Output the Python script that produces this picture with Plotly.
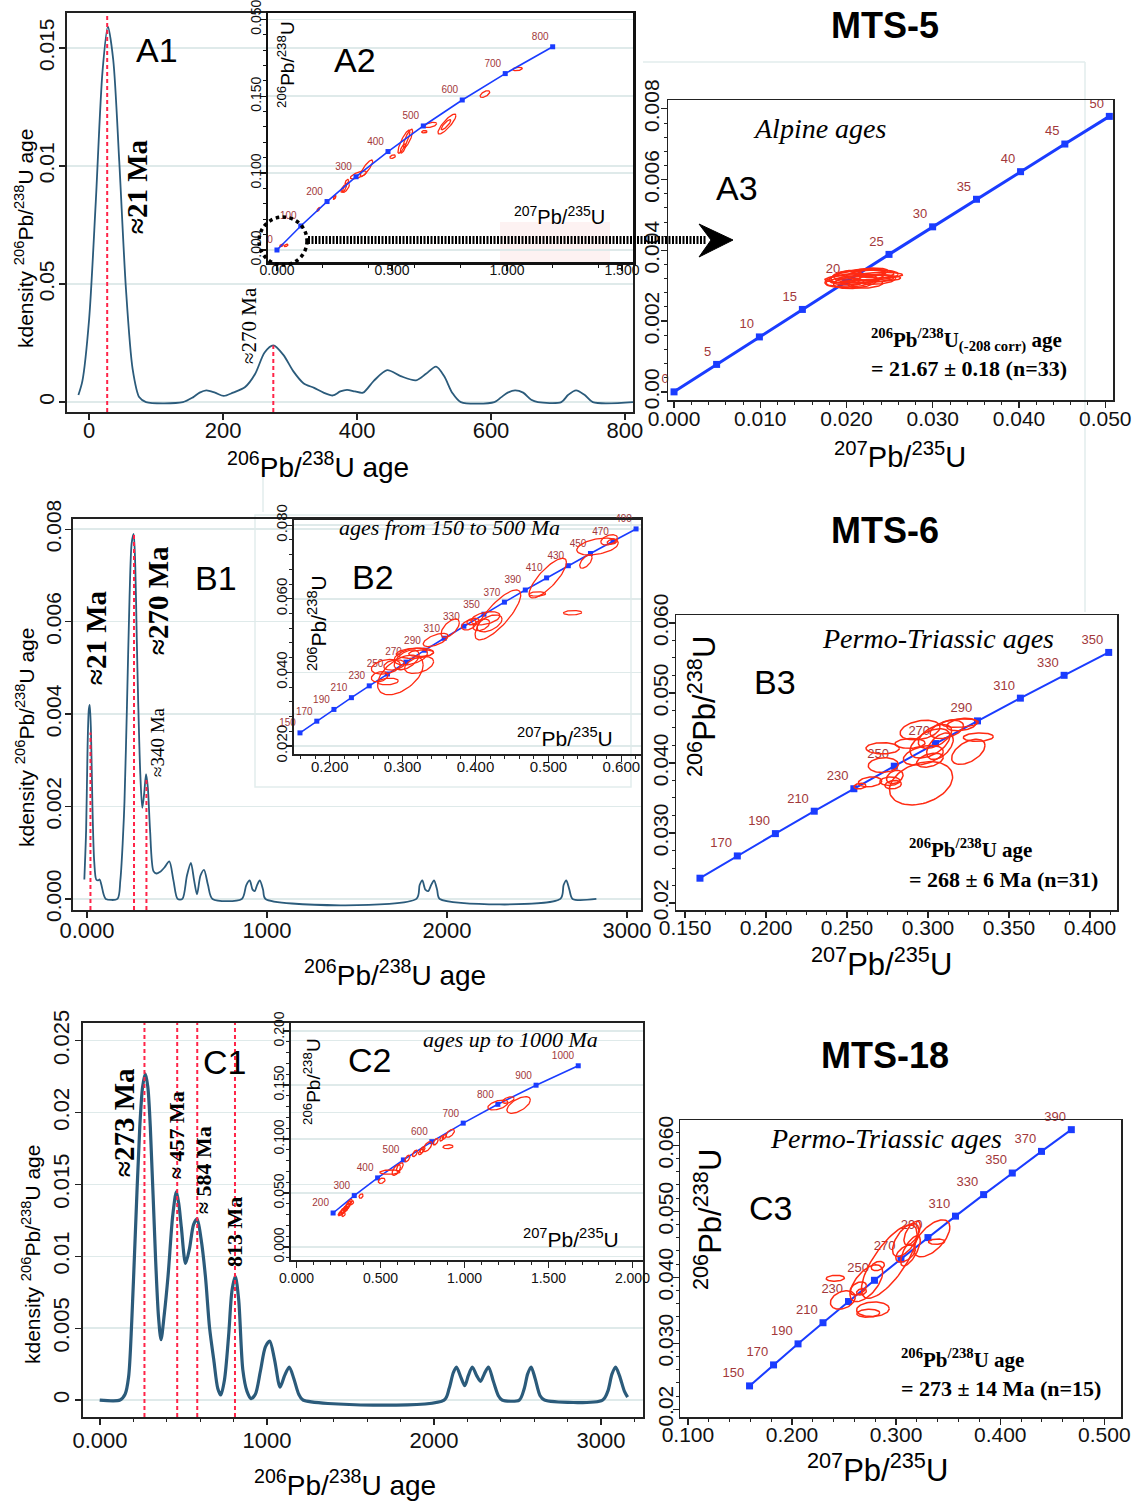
import numpy as np
import plotly.graph_objects as go

W, H = 1134, 1502
SANS = "Liberation Sans, Arial, Helvetica, sans-serif"
SERIF = "Liberation Serif, Times New Roman, serif"
KDE = "#2b5b7b"
CONC = "#1a3cff"
ELL = "#ff2a12"
PEAK = "#ff2448"
LAB = "#a2383a"
GRID = "#dfeaea"

# ============================ DATA ============================
# ---- A1: kernel density, MTS-5 ----
a1_age = [-16, -10, 0, 10, 20, 28, 36, 45, 55, 65, 75, 85, 140, 155, 165, 175, 188, 201, 215, 233,
          248, 262, 275, 290, 305, 320, 336, 350, 364, 375, 385, 397, 409, 425, 445, 465, 488, 503, 518, 530,
          542, 555, 605, 615, 625, 636, 648, 660, 670, 705, 715, 727, 740, 752, 812]
a1_den = [0.0003, 0.0009, 0.0035, 0.0085, 0.0140, 0.0159, 0.0145, 0.0102, 0.0048, 0.0014,
          0.0002, 0.0, 0.0, 0.0002, 0.0004, 0.0005, 0.0004, 0.00026, 0.0004, 0.00064,
          0.0012, 0.0021, 0.0024, 0.0020, 0.0013, 0.0008, 0.0006, 0.0004, 0.00028, 0.00045,
          0.00052, 0.00045, 0.0004, 0.0009, 0.00135, 0.0011, 0.00092, 0.0012, 0.0015, 0.0011,
          0.0004, 0.0, 0.0, 0.0002, 0.0004, 0.0005, 0.0004, 0.0001, 0.0, 0.0,
          0.0003, 0.0005, 0.0003, 0.0, 0.0]
a1_peak_x = [27, 275]
a1_peak_top = [0.01648, 0.0024]

# ---- A2: concordia 0-800 Ma ----
a2_ages = ["0", "100", "200", "300", "400", "500", "600", "700", "800"]
a2_cx = [0.0, 0.10350, 0.21771, 0.34374, 0.48281, 0.63628, 0.80563, 0.99251, 1.19873]
a2_cy = [0.0, 0.015633, 0.031511, 0.047637, 0.064016, 0.080650, 0.097544, 0.114702, 0.132133]
a2_ex = [0.02, 0.04, 0.18, 0.251, 0.29, 0.30, 0.304, 0.354, 0.389, 0.503, 0.552, 0.570, 0.548, 0.641, 0.668, 0.739, 0.735, 0.904, 1.046]
a2_ey = [0.003, 0.003, 0.0264, 0.0342, 0.040, 0.0405, 0.0444, 0.0488, 0.0531, 0.0607, 0.0704, 0.0726, 0.066, 0.0769, 0.0813, 0.0819, 0.0815, 0.1014, 0.1177]
a2_ea = [0.008, 0.008, 0.006, 0.006, 0.012, 0.015, 0.008, 0.035, 0.027, 0.012, 0.026, 0.020, 0.012, 0.012, 0.027, 0.039, 0.021, 0.021, 0.021]
a2_eb = [0.0008, 0.0008, 0.0012, 0.0012, 0.0025, 0.003, 0.0015, 0.0026, 0.0054, 0.0012, 0.0075, 0.006, 0.003, 0.0008, 0.0017, 0.0065, 0.0033, 0.0022, 0.0011]
a2_er = [0.5, 0.5, 0.7, 0.7, 0.7, 0.7, 0.6, 0.7, 0.85, 0.4, 0.85, 0.8, 0.7, 0.2, 0.5, 0.85, 0.85, 0.6, 0.3]

# ---- A3: concordia 0-50 Ma ----
a3_ages = ["0", "5", "10", "15", "20", "25", "30", "35", "40", "45", "50"]
a3_cx = [0.0, 0.004936, 0.009897, 0.014882, 0.019892, 0.024927, 0.029986, 0.035071, 0.040180, 0.045315, 0.050475]
a3_cy = [0.0, 0.000776, 0.001553, 0.002330, 0.003107, 0.003886, 0.004665, 0.005444, 0.006224, 0.007005, 0.007787]
a3_ex = [0.0215, 0.0220, 0.0205, 0.0225, 0.0230, 0.0210, 0.0218, 0.0198, 0.0240, 0.0212, 0.0228, 0.0222, 0.0200, 0.0235]
a3_ey = [0.00320, 0.00330, 0.00315, 0.00320, 0.00330, 0.00310, 0.00335, 0.00310, 0.00330, 0.00325, 0.00340, 0.00305, 0.00325, 0.00318]
a3_ea = [0.0040, 0.0035, 0.0030, 0.0038, 0.0030, 0.0025, 0.0028, 0.0022, 0.0025, 0.0032, 0.0020, 0.0020, 0.0018, 0.0022]
a3_eb = [0.00012, 0.00015, 0.00020, 0.00010, 0.00015, 0.00018, 0.00010, 0.00012, 0.00008, 0.00022, 0.00010, 0.00012, 0.00018, 0.00014]
a3_er = [0.2, 0.3, 0.3, 0.2, 0.2, 0.3, 0.2, 0.2, 0.1, 0.4, 0.2, 0.2, 0.3, 0.2]

# ---- B1: kernel density, MTS-6 ----
b1_age = [-15, -5, 3, 10, 15, 22, 30, 40, 51, 62, 70, 80, 92, 104, 169, 185, 198, 208, 222, 236,
          248, 259, 268, 276, 284, 296, 307, 318, 328, 338, 350, 369, 385, 404, 430, 457, 480, 503, 530, 555,
          577, 595, 611, 630, 650, 672, 697, 860, 885, 904, 920, 932, 945, 960, 978, 992, 1830, 1848, 1863, 1880,
          1896, 1912, 1928, 1945, 1960, 2630, 2648, 2663, 2680, 2698, 2830]
b1_den = [0.00042, 0.0015, 0.0033, 0.0041, 0.0042, 0.0036, 0.0020, 0.0008, 0.00042, 0.00040,
          0.00042, 0.0003, 0.0001, 0.0, 0.0, 0.0004, 0.0012, 0.0021, 0.0042, 0.0065,
          0.0077, 0.0079, 0.0072, 0.0057, 0.0043, 0.0027, 0.00197, 0.0023, 0.0027, 0.0024,
          0.0015, 0.0006, 0.00055, 0.00058, 0.00068, 0.00081, 0.0004, 0.0, 0.0, 0.0005,
          0.00078, 0.0004, 0.0001, 0.0005, 0.00063, 0.0003, 0.0, 0.0, 0.0003, 0.0004,
          0.0002, 0.00017, 0.0003, 0.0004, 0.0002, 0.0, 0.0, 0.0003, 0.0004, 0.0002,
          0.00017, 0.0003, 0.0004, 0.0002, 0.0, 0.0, 0.0003, 0.0004, 0.0002, 0.0, 0.0]
b1_peak_x = [19, 261, 330]
b1_peak_top = [0.0036, 0.0079, 0.0026]

# ---- B2: concordia 150-490 Ma ----
b2_ages = ["150", "170", "190", "210", "230", "250", "270", "290", "310", "330", "350", "370", "390", "410", "430", "450", "470", "490"]
b2_cx = [0.15920, 0.18226, 0.20578, 0.22976, 0.25423, 0.27918, 0.30462, 0.33057, 0.35704, 0.38404, 0.41157, 0.43965, 0.46828, 0.49749, 0.52728, 0.55766, 0.58865, 0.62023]
b2_cy = [0.023542, 0.026722, 0.029912, 0.033113, 0.036323, 0.039543, 0.042773, 0.046014, 0.049264, 0.052524, 0.055795, 0.059075, 0.062366, 0.065667, 0.068979, 0.072300, 0.075631, 0.078975]
b2_ex = [0.2969, 0.2770, 0.2685, 0.2799, 0.3112, 0.3226, 0.3168, 0.3055, 0.3255, 0.2884, 0.3653, 0.3453, 0.4307, 0.4193, 0.4080, 0.3909, 0.4137, 0.3966, 0.4991, 0.4848, 0.5332, 0.5514, 0.5674, 0.5833, 0.5875]
b2_ey = [0.0393, 0.0415, 0.0388, 0.0375, 0.0443, 0.0420, 0.0452, 0.0434, 0.0452, 0.0420, 0.0520, 0.0488, 0.0556, 0.0533, 0.0529, 0.0529, 0.0547, 0.0538, 0.0656, 0.0613, 0.0562, 0.0701, 0.0742, 0.0760, 0.0755]
b2_ea = [0.0313, 0.0199, 0.0114, 0.0142, 0.0228, 0.0199, 0.0256, 0.0171, 0.0171, 0.0142, 0.0125, 0.0171, 0.0313, 0.0171, 0.0114, 0.0102, 0.0199, 0.0085, 0.0256, 0.0114, 0.0125, 0.0085, 0.0285, 0.0114, 0.0068]
b2_eb = [0.0054, 0.0020, 0.0014, 0.0009, 0.0023, 0.0023, 0.0014, 0.0027, 0.0009, 0.0014, 0.0025, 0.0018, 0.0068, 0.0023, 0.0016, 0.0014, 0.0018, 0.0009, 0.0054, 0.0006, 0.0006, 0.0018, 0.0023, 0.0014, 0.0007]
b2_er = [0.5, 0.3, 0.3, 0.2, 0.4, 0.4, 0.2, 0.5, 0.2, 0.3, 0.6, 0.6, 0.8, 0.5, 0.4, 0.4, 0.4, 0.3, 0.8, 0.1, 0.1, 0.6, 0.4, 0.4, 0.3]

# ---- B3: concordia 150-350 Ma ----
b3_ages = ["", "170", "190", "210", "230", "250", "270", "290", "310", "330", "350"]
b3_cx = [0.15920, 0.18226, 0.20578, 0.22976, 0.25423, 0.27918, 0.30462, 0.33057, 0.35704, 0.38404, 0.41157]
b3_cy = [0.023542, 0.026722, 0.029912, 0.033113, 0.036323, 0.039543, 0.042773, 0.046014, 0.049264, 0.052524, 0.055795]
b3_ex = [0.2957, 0.2720, 0.2724, 0.2642, 0.2765, 0.2795, 0.2580, 0.2889, 0.3012, 0.3043, 0.3074, 0.3249, 0.3311, 0.3198, 0.3208, 0.3116, 0.2971, 0.2951, 0.3012, 0.2785]
b3_ey = [0.0371, 0.0421, 0.0397, 0.0373, 0.0374, 0.0380, 0.0367, 0.0428, 0.0428, 0.0438, 0.0424, 0.0416, 0.0437, 0.0457, 0.0455, 0.0448, 0.0411, 0.0447, 0.0404, 0.0369]
b3_ea = [0.0195, 0.0103, 0.0093, 0.0072, 0.0062, 0.0051, 0.0037, 0.0093, 0.0123, 0.0103, 0.0082, 0.0103, 0.0093, 0.0113, 0.0093, 0.0103, 0.0123, 0.0123, 0.0082, 0.0051]
b3_eb = [0.0031, 0.0008, 0.00105, 0.0007, 0.0006, 0.00095, 0.0004, 0.0007, 0.0021, 0.0017, 0.0019, 0.0018, 0.0006, 0.0006, 0.0009, 0.0013, 0.0014, 0.0014, 0.0010, 0.0006]
b3_er = [0.3, 0.0, 0.1, 0.2, 0.1, 0.3, 0.2, 0.1, 0.5, 0.5, 0.5, 0.5, 0.1, 0.2, 0.3, 0.4, 0.4, 0.3, 0.4, 0.2]

# ---- C1: kernel density, MTS-18 ----
c1_age = [-2, 120, 150, 171, 190, 209, 238, 255, 271, 286, 301, 333, 350, 365, 385, 407, 435, 457, 472, 487,
          512, 535, 560, 581, 605, 631, 656, 681, 705, 723, 745, 770, 790, 810, 830, 855, 880, 904, 930, 960,
          990, 1016, 1045, 1078, 1105, 1133, 1160, 1190, 1215, 2060, 2090, 2115, 2134, 2160, 2184, 2205, 2229, 2255, 2278, 2300,
          2326, 2355, 2385, 2407, 2510, 2540, 2560, 2581, 2605, 2635, 2661, 3009, 3040, 3065, 3087, 3110, 3140, 3159]
c1_den = [0.0, 0.0, 0.0004, 0.0016, 0.0055, 0.0109, 0.0190, 0.0218, 0.0227, 0.0218,
          0.0190, 0.0097, 0.0058, 0.0042, 0.0060, 0.0086, 0.0128, 0.0145, 0.0136, 0.0120,
          0.0095, 0.0105, 0.0122, 0.0126, 0.0112, 0.0086, 0.0050, 0.0028, 0.0008, 0.00035,
          0.0014, 0.0045, 0.0076, 0.0086, 0.0070, 0.0021, 0.0006, 0.0001, 0.0004, 0.0020,
          0.0037, 0.0041, 0.0028, 0.0009, 0.0017, 0.0023, 0.0015, 0.0004, 0.0, 0.0,
          0.0008, 0.0019, 0.0023, 0.0016, 0.0010, 0.0017, 0.0023, 0.0017, 0.0013, 0.0018,
          0.0023, 0.0013, 0.0003, 0.0, 0.0, 0.0008, 0.0018, 0.0023, 0.0015, 0.0003,
          0.0, 0.0, 0.0006, 0.0018, 0.0023, 0.0017, 0.0006, 0.0002]
c1_peak_x = [266, 462, 582, 808]

# ---- C2: concordia 200-1000 Ma ----
c2_ages = ["200", "300", "400", "500", "600", "700", "800", "900", "1000"]
c2_cx = [0.21771, 0.34374, 0.48281, 0.63628, 0.80563, 0.99251, 1.19873, 1.42630, 1.67741]
c2_cy = [0.031511, 0.047637, 0.064016, 0.080650, 0.097544, 0.114702, 0.132133, 0.149830, 0.167800]
c2_ex = [0.27, 0.285, 0.30, 0.31, 0.29, 0.32, 0.26, 0.275, 0.295, 0.305, 0.28, 0.33,
         0.384, 0.507, 0.556, 0.594, 0.615, 0.66, 0.705, 0.74, 0.779, 0.75, 0.8286, 0.865, 0.88,
         0.902, 0.915, 1.199, 1.261, 1.3225]
c2_ey = [0.032, 0.0343, 0.037, 0.040, 0.036, 0.042, 0.031, 0.0335, 0.035, 0.038, 0.030, 0.041,
         0.0472, 0.0614, 0.0694, 0.0713, 0.074, 0.082, 0.0867, 0.088, 0.0929, 0.090, 0.0975, 0.1006, 0.102,
         0.0929, 0.1053, 0.1315, 0.1361, 0.1315]
c2_ea = [0.015, 0.020, 0.018, 0.015, 0.012, 0.012, 0.012, 0.014, 0.012, 0.015, 0.010, 0.010,
         0.012, 0.020, 0.060, 0.025, 0.020, 0.015, 0.015, 0.014, 0.026, 0.015, 0.015, 0.012, 0.012,
         0.030, 0.025, 0.060, 0.035, 0.070]
c2_eb = [0.0025, 0.003, 0.003, 0.0025, 0.002, 0.002, 0.002, 0.0025, 0.002, 0.0025, 0.0018, 0.0018,
         0.002, 0.0025, 0.002, 0.005, 0.004, 0.003, 0.003, 0.0025, 0.0046, 0.003, 0.003, 0.0025, 0.0022,
         0.0018, 0.0037, 0.0046, 0.003, 0.0077]
c2_er = [0.6, 0.7, 0.7, 0.6, 0.5, 0.5, 0.6, 0.6, 0.6, 0.6, 0.5, 0.5,
         0.3, 0.3, 0.1, 0.6, 0.6, 0.6, 0.6, 0.6, 0.6, 0.6, 0.6, 0.6, 0.6,
         0.2, 0.6, 0.5, 0.5, 0.6]

# ---- C3: concordia 150-390 Ma ----
c3_ages = ["150", "170", "190", "210", "230", "250", "270", "290", "310", "330", "350", "370", "390"]
c3_cx = [0.15920, 0.18226, 0.20578, 0.22976, 0.25423, 0.27918, 0.30462, 0.33057, 0.35704, 0.38404, 0.41157, 0.43965, 0.46828]
c3_cy = [0.023542, 0.026722, 0.029912, 0.033113, 0.036323, 0.039543, 0.042773, 0.046014, 0.049264, 0.052524, 0.055795, 0.059075, 0.062366]
c3_ex = [0.2934, 0.3343, 0.3091, 0.3154, 0.3091, 0.3390, 0.2714, 0.2824, 0.2636, 0.2488, 0.2777, 0.2733, 0.2416, 0.2667, 0.3138]
c3_ey = [0.04237, 0.0459, 0.04565, 0.0467, 0.0436, 0.0454, 0.0391, 0.0417, 0.0383, 0.03656, 0.03515, 0.03455, 0.03985, 0.0378, 0.0440]
c3_ea = [0.0267, 0.0173, 0.0126, 0.0079, 0.0094, 0.0079, 0.0157, 0.0063, 0.0079, 0.0119, 0.0157, 0.0110, 0.0088, 0.0047, 0.0094]
c3_eb = [0.00556, 0.0028, 0.0025, 0.0018, 0.0013, 0.0004, 0.0028, 0.0007, 0.0010, 0.0014, 0.0011, 0.0006, 0.00045, 0.0005, 0.0023]
c3_er = [0.75, 0.6, 0.6, 0.6, 0.5, 0.1, 0.6, 0.3, 0.4, 0.3, 0.1, 0.1, 0.1, 0.3, 0.7]


# ============================ HELPERS ============================
def P(px, py):
    return px / W, 1 - py / H


def dom(x0, y0, x1, y1):
    return [x0 / W, x1 / W], [1 - y1 / H, 1 - y0 / H]


fig = go.Figure()


def kde(xs, ys, n, width):
    fig.add_trace(go.Scatter(x=xs, y=ys, mode="lines", hoverinfo="skip",
                             line=dict(color=KDE, width=width, shape="spline", smoothing=0.8),
                             xaxis="x" + n, yaxis="y" + n))


def vlines(xs, y0, tops, n):
    X, Y = [], []
    for x, t in zip(xs, tops):
        X += [x, x, None]
        Y += [y0, t, None]
    fig.add_trace(go.Scatter(x=X, y=Y, mode="lines", hoverinfo="skip",
                             line=dict(color=PEAK, width=2, dash="4px,3px"),
                             xaxis="x" + n, yaxis="y" + n))


def conc(xs, ys, labels, n, lw, ms, fs):
    fig.add_trace(go.Scatter(x=xs, y=ys, mode="lines+markers+text", text=labels,
                             textposition="top left", cliponaxis=False,
                             textfont=dict(family=SANS, size=fs, color=LAB),
                             line=dict(color=CONC, width=lw),
                             marker=dict(symbol="square", size=ms, color=CONC),
                             hoverinfo="skip", xaxis="x" + n, yaxis="y" + n))


def ellipses(cx, cy, ea, eb, er, n, width=1.4):
    t = np.linspace(0, 2 * np.pi, 72)
    X, Y = [], []
    for x0, y0, a, b, r in zip(cx, cy, ea, eb, er):
        X += list(x0 + a * np.cos(t)) + [None]
        Y += list(y0 + b * (r * np.cos(t) + np.sqrt(1 - r * r) * np.sin(t))) + [None]
    fig.add_trace(go.Scatter(x=X, y=Y, mode="lines", hoverinfo="skip",
                             line=dict(color=ELL, width=width),
                             xaxis="x" + n, yaxis="y" + n))


def axis(domain, rng, anchor, vals, text, fs, angle=0, grid=False, minor=None, lw=2.0,
         col="#222", so=0):
    d = dict(domain=domain, range=rng, anchor=anchor, showline=True, mirror=True,
             linecolor=col, linewidth=lw, ticks="outside", ticklen=6, tickwidth=1.3,
             tickcolor=col, tickmode="array", tickvals=vals, ticktext=text,
             tickfont=dict(family=SANS, size=fs, color="#111"), tickangle=angle,
             showgrid=grid, gridcolor=GRID, gridwidth=1.6, zeroline=False,
             fixedrange=True, automargin=False, ticklabeloverflow="allow",
             ticklabelstandoff=so)
    if minor:
        d["minor"] = dict(ticks="outside", ticklen=3, tickwidth=1, tickcolor=col,
                          dtick=minor, tick0=0, showgrid=False)
    return d


# ============================ TRACES ============================
# A
kde(a1_age, a1_den, "", 1.8)
vlines(a1_peak_x, -0.00042, a1_peak_top, "")
ellipses(a2_ex, a2_ey, a2_ea, a2_eb, a2_er, "2", 1.3)
conc(a2_cx, a2_cy, a2_ages, "2", 1.6, 5, 10)
conc(a3_cx, a3_cy, a3_ages, "3", 3, 7, 13)
ellipses(a3_ex, a3_ey, a3_ea, a3_eb, a3_er, "3", 1.5)
# B
kde(b1_age, b1_den, "4", 1.8)
vlines(b1_peak_x, -0.00024, b1_peak_top, "4")
conc(b2_cx, b2_cy, b2_ages, "5", 1.6, 5, 10)
ellipses(b2_ex, b2_ey, b2_ea, b2_eb, b2_er, "5", 1.3)
conc(b3_cx, b3_cy, b3_ages, "6", 2, 7, 13)
ellipses(b3_ex, b3_ey, b3_ea, b3_eb, b3_er, "6", 1.5)
# C
kde(c1_age, c1_den, "7", 3.2)
vlines(c1_peak_x, -0.00118, [0.02623] * len(c1_peak_x), "7")
conc(c2_cx, c2_cy, c2_ages, "8", 1.6, 5, 10)
ellipses(c2_ex, c2_ey, c2_ea, c2_eb, c2_er, "8", 1.3)
conc(c3_cx, c3_cy, c3_ages, "9", 2, 7, 13)
ellipses(c3_ex, c3_ey, c3_ea, c3_eb, c3_er, "9", 1.5)

# ============================ AXES ============================
lay = {}
boxes = {
    "": (67, 13, 633, 412), "2": (268, 13, 633, 262), "3": (668, 100, 1113, 400),
    "4": (73, 519, 641, 910), "5": (294, 520, 641, 754), "6": (676, 615, 1117, 910),
    "7": (83, 1023, 643, 1417), "8": (291, 1023, 643, 1260), "9": (680, 1120, 1121, 1417),
}
D = {k: dom(*v) for k, v in boxes.items()}


def put(n, xd, yd):
    lay["xaxis" + n] = xd
    lay["yaxis" + n] = yd


put("", axis(D[""][0], [-33, 812], "y", [0, 200, 400, 600, 800], ["0", "200", "400", "600", "800"], 22, so=-8),
    axis(D[""][1], [-0.00042, 0.01648], "x", [0, 0.005, 0.01, 0.015], ["0", "0.05", "0.01", "0.015"], 21, -90, True, so=-3))
put("2", axis(D["2"][0], [-0.039, 1.548], "y2", [0, 0.5, 1.0, 1.5], ["0.000", "0.500", "1.000", "1.500"], 14,
              minor=0.2, lw=2.5, col="#111", so=-12),
    axis(D["2"][1], [-0.0078, 0.1541], "x2", [0, 0.05, 0.10, 0.15], ["0.000", "0.100", "0.150", "0.050"], 14, -90, True,
         0.01, lw=2.5, col="#111", so=-7))
put("3", axis(D["3"][0], [-0.0007, 0.0509], "y3", [0, 0.01, 0.02, 0.03, 0.04, 0.05],
              ["0.000", "0.010", "0.020", "0.030", "0.040", "0.050"], 21, minor=0.002, lw=1.5, so=-7),
    axis(D["3"][1], [-0.00023, 0.00825], "x3", [0, 0.002, 0.004, 0.006, 0.008],
         ["0.00", "0.002", "0.004", "0.006", "0.008"], 21, -90, minor=0.0004, lw=1.5, so=-7))
put("4", axis(D["4"][0], [-78, 3078], "y4", [0, 1000, 2000, 3000], ["0.000", "1000", "2000", "3000"], 22, so=-6),
    axis(D["4"][1], [-0.00024, 0.00822], "x4", [0, 0.002, 0.004, 0.006, 0.008],
         ["0.000", "0.002", "0.004", "0.006", "0.008"], 21, -90, True, so=-4))
put("5", axis(D["5"][0], [0.151, 0.627], "y5", [0.2, 0.3, 0.4, 0.5, 0.6],
              ["0.200", "0.300", "0.400", "0.500", "0.600"], 15, minor=0.02, so=-8),
    axis(D["5"][1], [0.0178, 0.0814], "x5", [0.02, 0.04, 0.06, 0.08],
         ["0.020", "0.040", "0.060", "0.080"], 15, -90, True, 0.004, so=-7))
put("6", axis(D["6"][0], [0.1444, 0.4167], "y6", [0.15, 0.2, 0.25, 0.3, 0.35, 0.4],
              ["0.150", "0.200", "0.250", "0.300", "0.350", "0.400"], 21, minor=0.0125, lw=1.5, so=-8),
    axis(D["6"][1], [0.019, 0.06114], "x6", [0.02, 0.03, 0.04, 0.05, 0.06],
         ["0.02", "0.030", "0.040", "0.050", "0.060"], 21, -90, minor=0.0025, lw=1.5, so=-8))
put("7", axis(D["7"][0], [-102, 3251], "y7", [0, 1000, 2000, 3000], ["0.000", "1000", "2000", "3000"], 22,
              minor=200, so=-3),
    axis(D["7"][1], [-0.00118, 0.02623], "x7", [0, 0.005, 0.01, 0.015, 0.02, 0.025],
         ["0", "0.005", "0.01", "0.015", "0.02", "0.025"], 22, -90, True, so=-3))
put("8", axis(D["8"][0], [-0.033, 2.063], "y8", [0, 0.5, 1.0, 1.5, 2.0],
              ["0.000", "0.500", "1.000", "1.500", "2.000"], 14, minor=0.1, so=-2),
    axis(D["8"][1], [-0.012, 0.2074], "x8", [0, 0.05, 0.10, 0.15, 0.20],
         ["0.000", "0.050", "0.100", "0.150", "0.200"], 14, -90, True, 0.01, so=-7))
put("9", axis(D["9"][0], [0.0924, 0.516], "y9", [0.1, 0.2, 0.3, 0.4, 0.5],
              ["0.100", "0.200", "0.300", "0.400", "0.500"], 21, minor=0.02, lw=1.5, so=-8),
    axis(D["9"][1], [0.01883, 0.06383], "x9", [0.02, 0.03, 0.04, 0.05, 0.06],
         ["0.02", "0.030", "0.040", "0.050", "0.060"], 21, -90, minor=0.002, lw=1.5, so=-9))


# ============================ TEXT ============================
def ann(text, px, py, size, family=SANS, angle=0, xanchor="center", bold=False, italic=False):
    if bold:
        text = "<b>" + text + "</b>"
    if italic:
        text = "<i>" + text + "</i>"
    x, y = P(px, py)
    return dict(text=text, x=x, y=y, xref="paper", yref="paper", showarrow=False,
                textangle=angle, xanchor=xanchor, yanchor="middle",
                font=dict(family=family, size=size, color="black"))


PB68 = "<sup>206</sup>Pb/<sup>238</sup>U"
PB68B = "<sup>206</sup>Pb<sup>/238</sup>U"
PB75 = "<sup>207</sup>Pb/<sup>235</sup>U"
anns = [
    ann("MTS-5", 885, 25, 36, bold=True),
    ann("MTS-6", 885, 530, 36, bold=True),
    ann("MTS-18", 885, 1055, 36, bold=True),
    ann("A1", 157, 50, 34), ann("A2", 355, 60, 34), ann("A3", 737, 188, 34),
    ann("B1", 216, 578, 34), ann("B2", 373, 577, 34), ann("B3", 775, 682, 34),
    ann("C1", 224, 1062, 34), ann("C2", 369, 1060, 34), ann("C3", 770, 1208, 34),
    # A
    ann("≈21 Ma", 137, 187, 29, SERIF, -90, bold=True),
    ann("≈270 Ma", 249, 326, 21, SERIF, -90),
    ann("kdensity " + PB68 + " age", 24, 239, 21, angle=-90),
    ann(PB68 + " age", 318, 465, 28),
    ann(PB68, 286, 65, 19, angle=-90),
    ann(PB75, 559, 215, 20),
    ann(PB75, 900, 455, 29),
    ann("Alpine ages", 820, 128, 28, SERIF, italic=True),
    ann(PB68B + "<sub>(-208 corr)</sub> age", 869, 340, 21, SERIF, xanchor="left", bold=True),
    ann("= 21.67 ± 0.18 (n=33)", 869, 368, 22, SERIF, xanchor="left", bold=True),
    # B
    ann("≈21 Ma", 96, 638, 29, SERIF, -90, bold=True),
    ann("≈270 Ma", 158, 601, 29, SERIF, -90, bold=True),
    ann("≈340 Ma", 157, 742, 19, SERIF, -90),
    ann("kdensity " + PB68 + " age", 25, 738, 21, angle=-90),
    ann(PB68 + " age", 395, 973, 28),
    ann("ages from 150 to 500 Ma", 449, 528, 22, SERIF, italic=True),
    ann(PB68, 317, 623, 21, angle=-90),
    ann(PB75, 565, 737, 21),
    ann(PB68, 702, 707, 31, angle=-90),
    ann(PB75, 881, 962, 31),
    ann("Permo-Triassic ages", 938, 638, 28, SERIF, italic=True),
    ann(PB68B + " age", 907, 848, 21, SERIF, xanchor="left", bold=True),
    ann("= 268 ± 6 Ma (n=31)", 907, 879, 22, SERIF, xanchor="left", bold=True),
    # C
    ann("≈273 Ma", 124, 1123, 29, SERIF, -90, bold=True),
    ann("≈ 457 Ma", 176, 1135, 22, SERIF, -90, bold=True),
    ann("≈ 584 Ma", 203, 1170, 22, SERIF, -90, bold=True),
    ann("813 Ma", 234, 1232, 22, SERIF, -90, bold=True),
    ann("kdensity " + PB68 + " age", 31, 1255, 21, angle=-90),
    ann(PB68 + " age", 345, 1483, 28),
    ann("ages up to 1000 Ma", 510, 1039, 22, SERIF, italic=True),
    ann(PB68, 312, 1082, 19, angle=-90),
    ann(PB75, 571, 1238, 21),
    ann(PB68, 708, 1220, 31, angle=-90),
    ann(PB75, 877, 1468, 31),
    ann("Permo-Triassic ages", 886, 1138, 28, SERIF, italic=True),
    ann(PB68B + " age", 899, 1358, 21, SERIF, xanchor="left", bold=True),
    ann("= 273 ± 14 Ma (n=15)", 899, 1388, 22, SERIF, xanchor="left", bold=True),
]

# ============================ SHAPES ============================
FAINT = "#e2eded"


def pline(x0, y0, x1, y1, **kw):
    a, b = P(x0, y0)
    c, d = P(x1, y1)
    return dict(type="line", xref="paper", yref="paper", x0=a, y0=b, x1=c, y1=d, **kw)


def prect(x0, y0, x1, y1, **kw):
    a, b = P(x0, y0)
    c, d = P(x1, y1)
    return dict(type="rect", xref="paper", yref="paper", x0=a, y0=d, x1=c, y1=b, **kw)


ax_, ay_ = P(733, 240)
bx_, by_ = P(699, 224)
cx_, cy_ = P(711, 240)
dx_, dy_ = P(699, 257)
shapes = [
    pline(643, 62, 1085, 62, line=dict(color=FAINT, width=1.5), layer="below"),
    pline(1085, 62, 1085, 612, line=dict(color=FAINT, width=1.5), layer="below"),
    pline(263, 468, 263, 512, line=dict(color=FAINT, width=1.5), layer="below"),
    prect(255, 515, 631, 787, line=dict(color=FAINT, width=1.5), layer="below"),
    prect(500, 222, 610, 262, line=dict(width=0), fillcolor="#fdf2f2", layer="below"),
    dict(type="circle", xref="paper", yref="paper",
         x0=P(259, 0)[0], x1=P(307, 0)[0], y0=P(0, 265)[1], y1=P(0, 217)[1],
         line=dict(color="black", width=3.5, dash="dot")),
    pline(308, 240, 706, 240, line=dict(color="black", width=8, dash="2px,1.5px")),
    dict(type="path", xref="paper", yref="paper",
         path=f"M {ax_} {ay_} L {bx_} {by_} L {cx_} {cy_} L {dx_} {dy_} Z",
         fillcolor="black", line=dict(color="black", width=1)),
]

fig.update_layout(template="none", width=W, height=H, margin=dict(l=0, r=0, t=0, b=0, pad=0),
                  autosize=False, paper_bgcolor="white", plot_bgcolor="rgba(0,0,0,0)",
                  showlegend=False, annotations=anns, shapes=shapes,
                  font=dict(family=SANS), **lay)
fig.write_html("out.html", config={"displayModeBar": False, "staticPlot": True},
               post_script="document.body.style.margin='0px';")
